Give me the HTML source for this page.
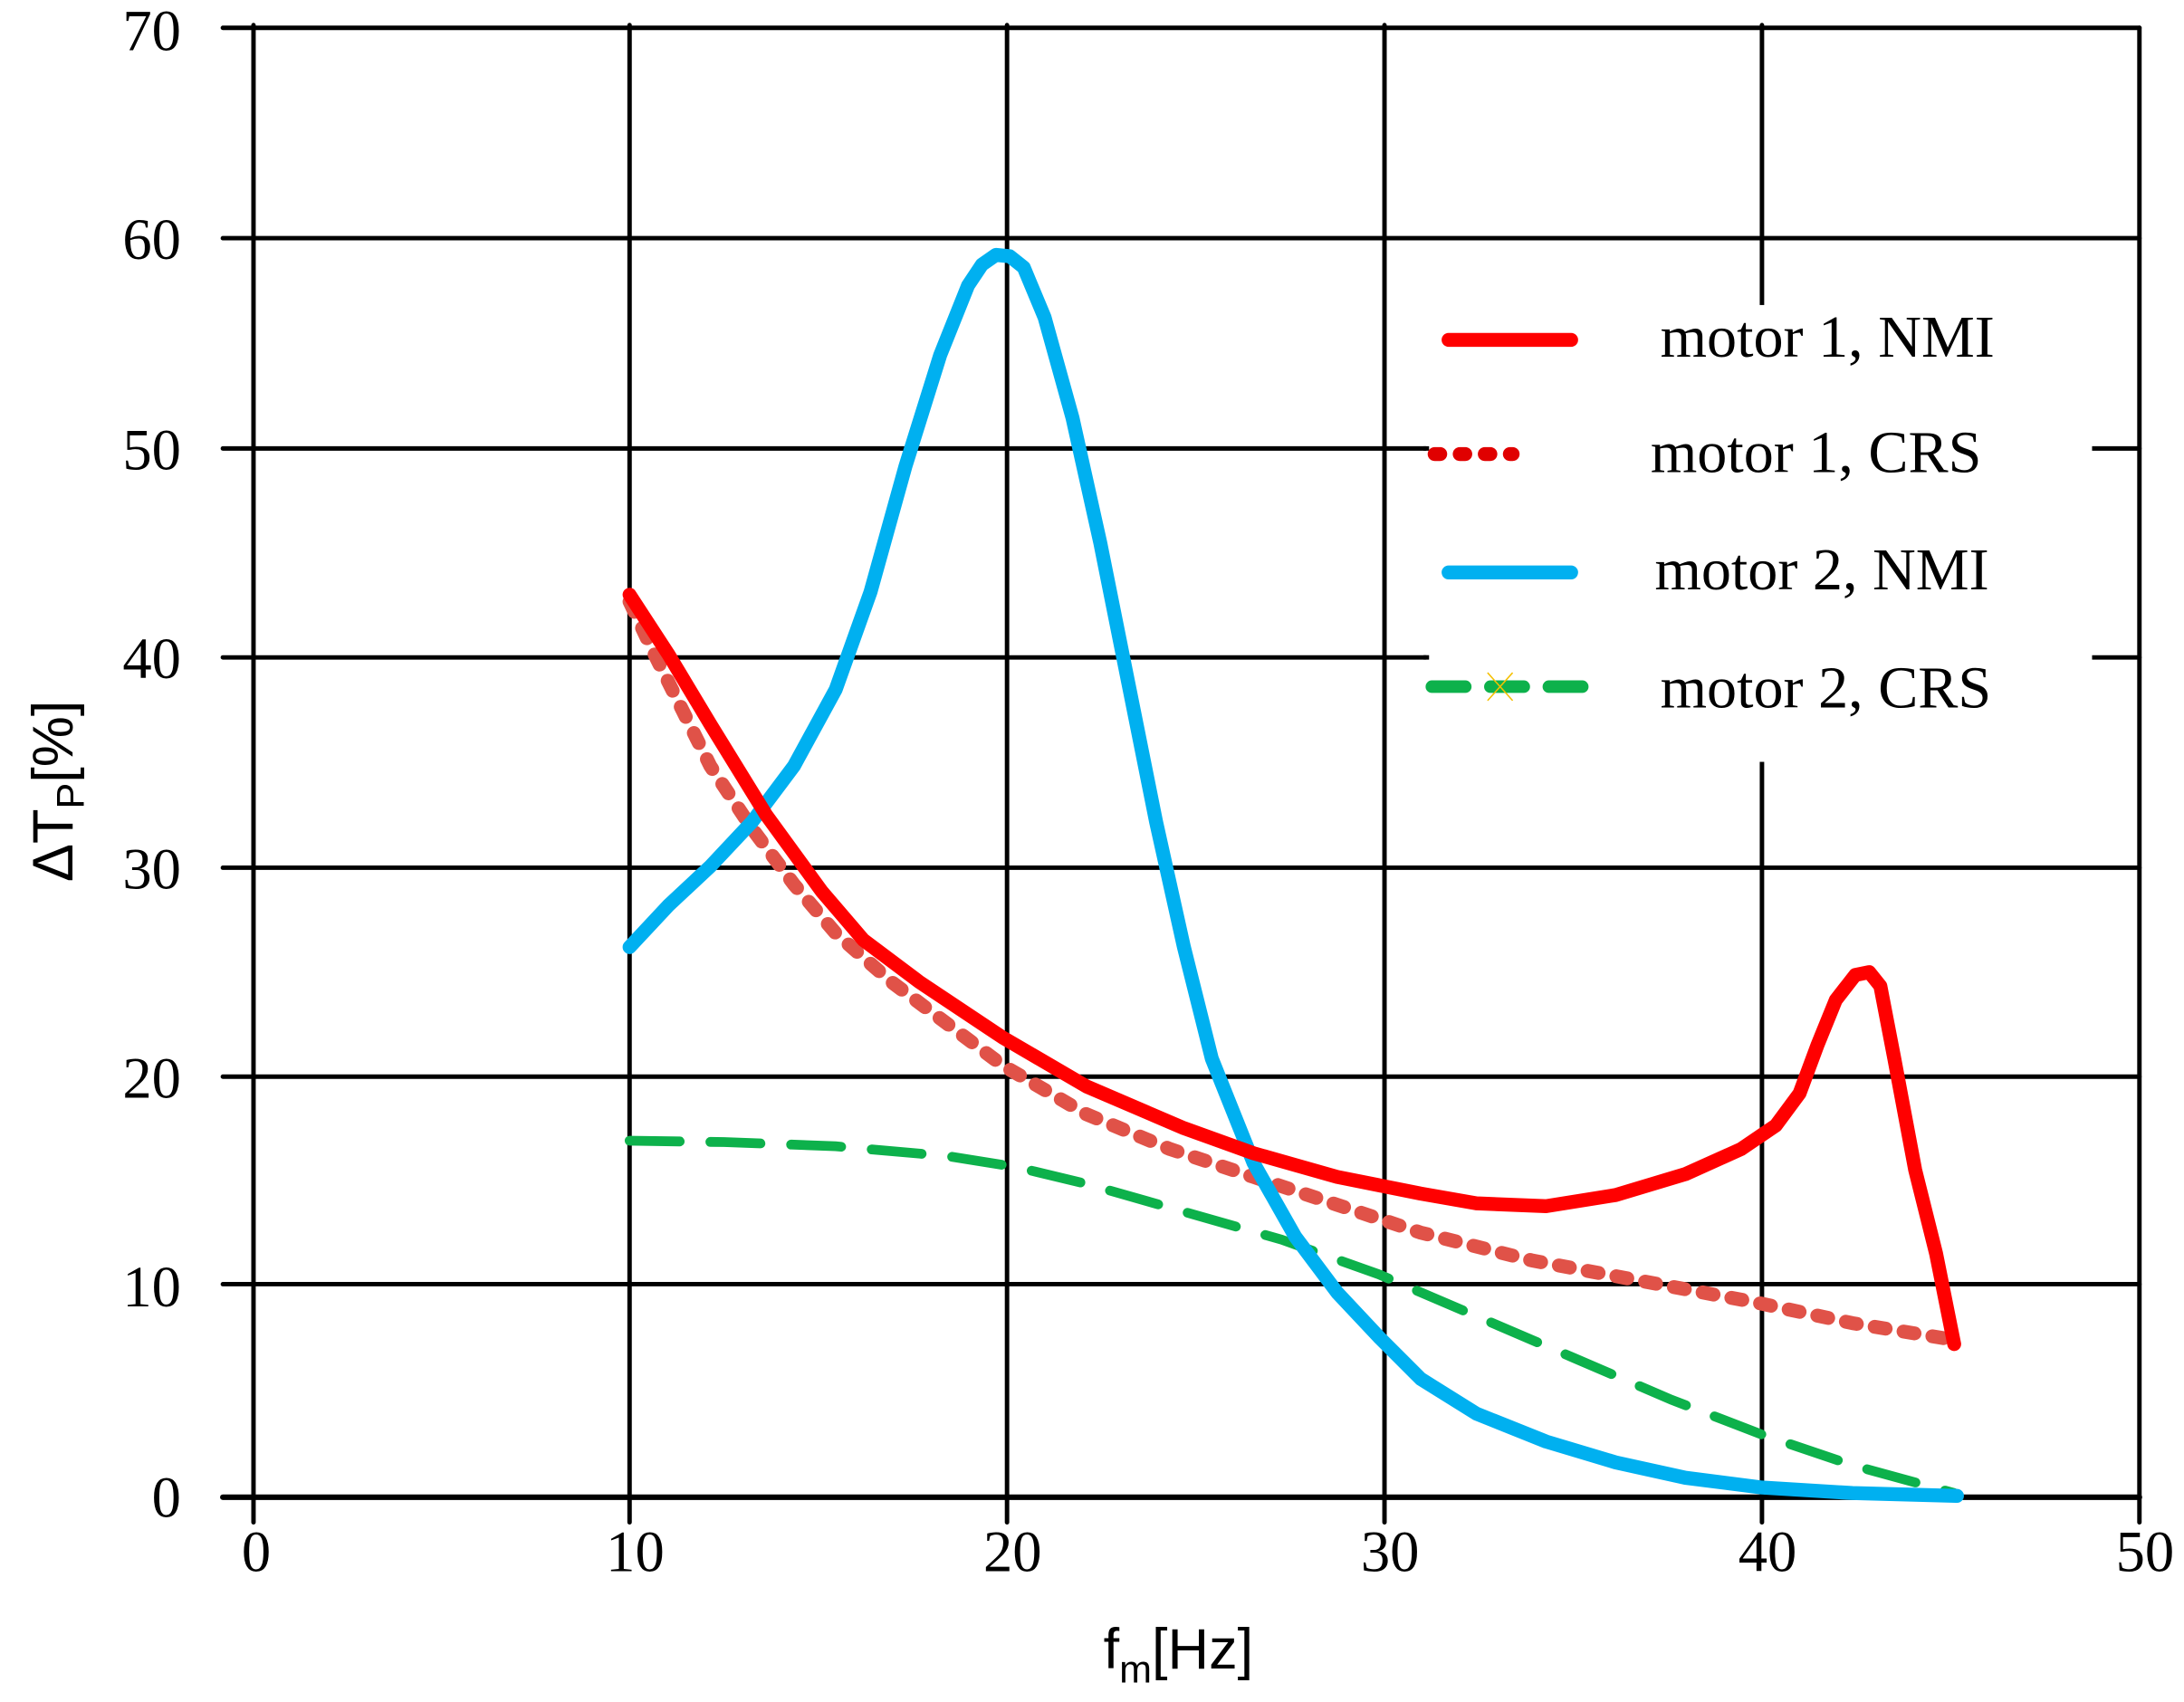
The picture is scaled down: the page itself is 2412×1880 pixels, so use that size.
<!DOCTYPE html>
<html><head><meta charset="utf-8">
<style>
html,body{margin:0;padding:0;background:#fff;}
svg{display:block;}
.t{font-family:"Liberation Serif",serif;font-size:42px;fill:#000;}
.l{font-family:"Liberation Serif",serif;font-size:43px;fill:#000;}
.s{font-family:"Liberation Sans",sans-serif;font-size:41px;fill:#000;}
</style></head>
<body>
<svg width="2412" height="1880" viewBox="0 0 1568 1222" preserveAspectRatio="none" xmlns="http://www.w3.org/2000/svg">
<rect width="1568" height="1222" fill="#fff"/>
<g stroke="#000" stroke-width="3.2" fill="none" stroke-linecap="round">
  <line x1="182" y1="18" x2="182" y2="1093"/>
  <line x1="452" y1="18" x2="452" y2="1093"/>
  <line x1="723" y1="18" x2="723" y2="1093"/>
  <line x1="994" y1="18" x2="994" y2="1093"/>
  <line x1="1265" y1="18" x2="1265" y2="1093"/>
  <line x1="1536" y1="20" x2="1536" y2="1093"/>
  <line x1="160" y1="20" x2="1536" y2="20"/>
  <line x1="160" y1="171" x2="1536" y2="171"/>
  <line x1="160" y1="322" x2="1536" y2="322"/>
  <line x1="160" y1="472" x2="1536" y2="472"/>
  <line x1="160" y1="623" x2="1536" y2="623"/>
  <line x1="160" y1="773" x2="1536" y2="773"/>
  <line x1="160" y1="922" x2="1536" y2="922"/>
  <line x1="160" y1="1075" x2="1536" y2="1075" stroke-width="4"/>
</g>
<rect x="1024" y="219" width="478" height="328" fill="#fff"/>
<line x1="1022" y1="322" x2="1026" y2="322" stroke="#000" stroke-width="3.2"/>
<line x1="1022" y1="472" x2="1026" y2="472" stroke="#000" stroke-width="3.2"/>

<polyline fill="none" stroke="#0db14b" stroke-width="7" stroke-linecap="round" stroke-dasharray="36,22"
 points="452,819 520,820 600,823 680,830 730,838 780,850 850,870 920,890 990,915 1060,945 1130,975 1200,1005 1265,1030 1330,1052 1403,1072"/>
<polyline fill="none" stroke="#e05248" stroke-width="10" stroke-linecap="round" stroke-linejoin="round" stroke-dasharray="8,13"
 points="452,432 470,470 490,510 510,550 540,595 570,635 600,670 640,705 680,735 720,765 780,800 840,825 900,845 960,865 1020,885 1100,905 1180,920 1260,935 1330,950 1403,962"/>
<polyline fill="none" stroke="#00b0f0" stroke-width="10" stroke-linecap="round" stroke-linejoin="round"
 points="452,680 480,650 510,622 540,590 570,550 600,495 625,425 650,335 675,255 695,205 705,190 715,183 725,184 735,192 750,228 770,300 790,390 810,490 830,590 850,680 870,760 900,835 930,888 960,928 990,960 1020,990 1060,1015 1110,1035 1160,1050 1210,1061 1265,1068 1330,1072 1405,1074"/>
<polyline fill="none" stroke="#ff0000" stroke-width="10" stroke-linecap="round" stroke-linejoin="round"
 points="452,427 480,470 510,520 550,585 590,640 620,675 660,705 720,745 780,780 850,810 900,828 960,845 1020,857 1060,864 1110,866 1160,858 1210,843 1250,825 1275,808 1292,785 1305,750 1318,718 1332,700 1342,698 1350,708 1360,760 1375,840 1390,900 1403,965"/>

<line x1="1040" y1="244" x2="1128" y2="244" stroke="#ff0000" stroke-width="10" stroke-linecap="round"/>
<line x1="1030" y1="326" x2="1086" y2="326" stroke="#e00000" stroke-width="10" stroke-linecap="round" stroke-dasharray="4,14"/>
<line x1="1040" y1="411" x2="1128" y2="411" stroke="#00b0f0" stroke-width="10" stroke-linecap="round"/>
<line x1="1028" y1="493" x2="1136" y2="493" stroke="#0db14b" stroke-width="9" stroke-linecap="round" stroke-dasharray="24,18"/>
<path d="M1068,483 L1086,503 M1068,503 L1086,483" stroke="#f5c000" stroke-width="1"/>
<text class="l" x="1192" y="256">motor 1, NMI</text>
<text class="l" x="1185" y="339">motor 1, CRS</text>
<text class="l" x="1188" y="423">motor 2, NMI</text>
<text class="l" x="1192" y="508">motor 2, CRS</text>

<g class="t" text-anchor="end">
<text x="130" y="1089">0</text>
<text x="130" y="938">10</text>
<text x="130" y="788">20</text>
<text x="130" y="638">30</text>
<text x="130" y="487">40</text>
<text x="130" y="337">50</text>
<text x="130" y="186">60</text>
<text x="130" y="36">70</text>
</g>
<g class="t" text-anchor="middle">
<text x="184" y="1128">0</text>
<text x="456" y="1128">10</text>
<text x="727" y="1128">20</text>
<text x="998" y="1128">30</text>
<text x="1269" y="1128">40</text>
<text x="1540" y="1128">50</text>
</g>
<text class="s" x="846" y="1198" text-anchor="middle">f<tspan font-size="28" dy="10">m</tspan><tspan dy="-10">[Hz]</tspan></text>
<text class="s" transform="translate(52,568) rotate(-90)" text-anchor="middle" font-size="43">ΔT<tspan font-size="28" dy="8">P</tspan><tspan dy="-8">[%]</tspan></text>
</svg>
</body></html>
